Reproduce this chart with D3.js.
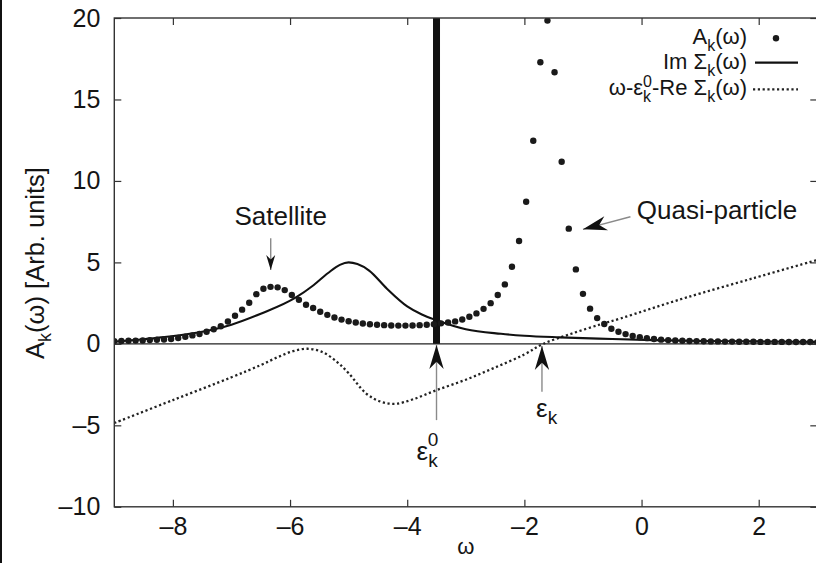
<!DOCTYPE html>
<html>
<head>
<meta charset="utf-8">
<script src="https://cdn.jsdelivr.net/npm/d3@7"></script>
<style>
	body { margin: 0; background: #fff; }
	text { font-family: "Liberation Sans", Arial, sans-serif; fill: #151515; }
</style>
</head>
<body>
<div id="chart"></div>
<script>
// spectral function A_k(w), one value per gnuplot sample (100 samples on [-9, 3])
const specA = [
	0.17, 0.18, 0.19, 0.20, 0.21, 0.23, 0.25, 0.27, 0.30, 0.36,
	0.44, 0.52, 0.61, 0.74, 0.90, 1.08, 1.37, 1.73, 2.10, 2.52,
	3.05, 3.38, 3.50, 3.47, 3.30, 3.00, 2.70, 2.40, 2.20, 1.97,
	1.78, 1.62, 1.49, 1.39, 1.31, 1.25, 1.20, 1.17, 1.15, 1.13,
	1.12, 1.12, 1.13, 1.15, 1.17, 1.21, 1.26, 1.31, 1.38, 1.50,
	1.66, 1.87, 2.15, 2.50, 3.00, 3.65, 4.73, 6.31, 8.72, 12.47,
	17.28, 19.84, 16.67, 11.18, 7.07, 4.57, 3.07, 2.16, 1.58, 1.22,
	0.93, 0.74, 0.60, 0.49, 0.41, 0.35, 0.30, 0.26, 0.23, 0.21,
	0.19, 0.18, 0.17, 0.16, 0.15, 0.15, 0.14, 0.14, 0.13, 0.13,
	0.13, 0.12, 0.12, 0.12, 0.12, 0.11, 0.11, 0.11, 0.11, 0.10
];
const omega = d3.range(specA.length).map(i => -9 + i * 12 / 99);

// Im Sigma_k(w) [w, value]
const imSigma = [
	[-9, 0.14], [-8.5, 0.28], [-8.2, 0.4], [-7.6, 0.68], [-7.0, 1.18], [-6.5, 1.85],
	[-5.9, 2.85], [-5.6, 3.6], [-5.35, 4.35], [-5.15, 4.85], [-5.0, 5.0], [-4.85, 4.9],
	[-4.65, 4.5], [-4.35, 3.4], [-4.0, 2.3], [-3.75, 1.8], [-3.5, 1.45], [-3.0, 0.9],
	[-2.4, 0.62], [-2.0, 0.5], [-1.4, 0.4], [-0.5, 0.3], [0.2, 0.23], [1, 0.18],
	[2, 0.15], [3, 0.12]
];

// w - eps0_k - Re Sigma_k(w)
const reTerm = [
	[-9, -4.86], [-8, -3.45], [-7, -2.05], [-6.5, -1.3], [-6.2, -0.8], [-5.95, -0.45],
	[-5.7, -0.3], [-5.45, -0.5], [-5.2, -1.1], [-5.0, -1.8], [-4.7, -3.05], [-4.45, -3.55],
	[-4.2, -3.68], [-3.9, -3.4], [-3.5, -2.84], [-3.0, -2.2], [-2.5, -1.45], [-2.0, -0.65],
	[-1.68, 0], [-1.2, 0.62], [-0.7, 1.2], [-0.36, 1.56], [0.15, 2.15], [0.77, 2.85],
	[1.9, 4.02], [3, 5.15]
];

const eps0 = -3.5;
const xTicks = [-8, -6, -4, -2, 0, 2];
const yTicks = [-10, -5, 0, 5, 10, 15, 20];

// annotation arrows: [w tail, value tail, w tip, value tip, head length]
const arrows = [
	[-6.33, 6.48, -6.33, 4.53, 15],
	[-0.19, 7.8, -1.0, 7.03, 24],
	[-3.5, -4.68, -3.5, -0.07, 24],
	[-1.70, -2.94, -1.70, -0.13, 24]
];

const W = 816, H = 563;
const svg = d3.select("#chart").append("svg")
	.attr("width", W).attr("height", H);

const x = d3.scaleLinear().domain([-9, 3]).range([114.3, 817.3]);
const y = d3.scaleLinear().domain([-10, 20]).range([506.8, 18]);
const fmt = d => d < 0 ? "\u2013" + Math.abs(d) : String(d);

svg.append("rect").attr("x", 0).attr("y", 0).attr("width", 2).attr("height", H).attr("fill", "#111");

svg.append("defs").append("clipPath").attr("id", "plot")
	.append("rect").attr("x", x(-9)).attr("y", y(20)).attr("width", x(3) - x(-9)).attr("height", y(-10) - y(20));

const plot = svg.append("g").attr("clip-path", "url(#plot)");

// zero line
plot.append("line")
	.attr("x1", x(-9)).attr("x2", x(3)).attr("y1", y(0)).attr("y2", y(0))
	.attr("stroke", "#222").attr("stroke-width", 1.4);

const line = d3.line().x(d => x(d[0])).y(d => y(d[1])).curve(d3.curveMonotoneX);

plot.append("path").datum(reTerm)
	.attr("d", line.curve(d3.curveCatmullRom.alpha(0.5))).attr("fill", "none")
	.attr("stroke", "#222").attr("stroke-width", 2.3).attr("stroke-dasharray", "2.2,2.6");

plot.append("path").datum(imSigma)
	.attr("d", line.curve(d3.curveMonotoneX)).attr("fill", "none")
	.attr("stroke", "#111").attr("stroke-width", 2.1);

// delta peak of Im Sigma at eps0
plot.append("line")
	.attr("x1", x(eps0)).attr("x2", x(eps0)).attr("y1", y(0)).attr("y2", y(20))
	.attr("stroke", "#111").attr("stroke-width", 7);

plot.selectAll("circle.a").data(specA).enter().append("circle")
	.attr("class", "a")
	.attr("cx", (d, i) => x(omega[i])).attr("cy", d => y(d))
	.attr("r", 3.2).attr("fill", "#1a1a1a");

// frame + ticks
const axisStyle = g => {
	g.select(".domain").remove();
	g.selectAll(".tick line").attr("stroke", "#333").attr("stroke-width", 1.2);
	g.selectAll(".tick text").attr("font-size", 25).attr("fill", "#151515")
		.attr("font-family", "'Liberation Sans', Arial, sans-serif");
};

svg.append("g").attr("transform", `translate(0,${y(-10)})`)
	.call(d3.axisBottom(x).tickValues(xTicks).tickSize(-7).tickPadding(10).tickFormat(fmt))
	.call(axisStyle);
svg.append("g").attr("transform", `translate(0,${y(20)})`)
	.call(d3.axisTop(x).tickValues(xTicks).tickSize(-7).tickFormat(""))
	.call(axisStyle);
svg.append("g").attr("transform", `translate(${x(-9)},0)`)
	.call(d3.axisLeft(y).tickValues(yTicks).tickSize(-7).tickPadding(14).tickFormat(fmt))
	.call(axisStyle);
svg.append("g").attr("transform", `translate(${x(3)},0)`)
	.call(d3.axisRight(y).tickValues(yTicks).tickSize(-7).tickFormat(""))
	.call(axisStyle);

svg.append("rect")
	.attr("x", x(-9)).attr("y", y(20)).attr("width", x(3) - x(-9)).attr("height", y(-10) - y(20))
	.attr("fill", "none").attr("stroke", "#333").attr("stroke-width", 1.4);

// axis labels
const ylab = svg.append("text")
	.attr("transform", "translate(43.5,263) rotate(-90)")
	.attr("text-anchor", "middle").attr("font-size", 25.5);
ylab.append("tspan").text("A");
ylab.append("tspan").attr("font-size", 18).attr("dy", 7).text("k");
ylab.append("tspan").attr("dy", -7).text("(\u03c9) [Arb. units]");

svg.append("text")
	.attr("x", (x(-9) + x(3)) / 2).attr("y", 554)
	.attr("text-anchor", "middle").attr("font-size", 22).text("\u03c9");

// legend
const legX = 747;
const legY = [43.5, 69.2, 95];
const l1 = svg.append("text").attr("x", legX).attr("y", legY[0]).attr("text-anchor", "end").attr("font-size", 22);
l1.append("tspan").text("A");
l1.append("tspan").attr("font-size", 16).attr("dy", 7).text("k");
l1.append("tspan").attr("dy", -7).text("(\u03c9)");
svg.append("circle").attr("cx", 776).attr("cy", legY[0] - 5.2).attr("r", 3.2).attr("fill", "#1a1a1a");

const l2 = svg.append("text").attr("x", legX).attr("y", legY[1]).attr("text-anchor", "end").attr("font-size", 22);
l2.append("tspan").text("Im \u03a3");
l2.append("tspan").attr("font-size", 16).attr("dy", 7).text("k");
l2.append("tspan").attr("dy", -7).text("(\u03c9)");
svg.append("line").attr("x1", 755).attr("x2", 798).attr("y1", legY[1] - 6.5).attr("y2", legY[1] - 6.5)
	.attr("stroke", "#111").attr("stroke-width", 2.3);

const l3 = svg.append("text").attr("x", legX).attr("y", legY[2]).attr("text-anchor", "end").attr("font-size", 22);
l3.append("tspan").text("\u03c9-\u03b5");
l3.append("tspan").attr("font-size", 16).attr("dy", 7).text("k");
l3.append("tspan").attr("font-size", 16).attr("dx", -8).attr("dy", -15).text("0");
l3.append("tspan").attr("dy", 8).text("-Re \u03a3");
l3.append("tspan").attr("font-size", 16).attr("dy", 7).text("k");
l3.append("tspan").attr("dy", -7).text("(\u03c9)");
svg.append("line").attr("x1", 753).attr("x2", 798).attr("y1", legY[2] - 5.7).attr("y2", legY[2] - 5.7)
	.attr("stroke", "#222").attr("stroke-width", 2.3).attr("stroke-dasharray", "2.2,2.6");

// annotations
function arrowHead(x1, y1, x2, y2, len) {
	const a = Math.atan2(y2 - y1, x2 - x1);
	const half = len * 0.3;
	const bx = x2 - len * Math.cos(a), by = y2 - len * Math.sin(a);
	const nx = x2 - len * 0.7 * Math.cos(a), ny = y2 - len * 0.7 * Math.sin(a);
	const px = -Math.sin(a) * half, py = Math.cos(a) * half;
	return `M${x2},${y2}L${bx + px},${by + py}L${nx},${ny}L${bx - px},${by - py}Z`;
}

arrows.forEach(a => {
	const [x1, y1, x2, y2] = [x(a[0]), y(a[1]), x(a[2]), y(a[3])];
	svg.append("line").attr("x1", x1).attr("y1", y1).attr("x2", x2).attr("y2", y2)
		.attr("stroke", "#8a8a8a").attr("stroke-width", 1.4);
	svg.append("path").attr("d", arrowHead(x1, y1, x2, y2, a[4])).attr("fill", "#111");
});

svg.append("text").attr("x", x(-6.16)).attr("y", y(7.28))
	.attr("text-anchor", "middle").attr("font-size", 26).text("Satellite");
svg.append("text").attr("x", x(-0.08)).attr("y", y(7.66))
	.attr("font-size", 26).text("Quasi-particle");

const e0 = svg.append("text").attr("x", x(-3.84)).attr("y", y(-7.13)).attr("font-size", 26);
e0.append("tspan").text("\u03b5");
e0.append("tspan").attr("font-size", 19).attr("dy", 7).text("k");
e0.append("tspan").attr("font-size", 19).attr("dx", -10).attr("dy", -21).text("0");

const ek = svg.append("text").attr("x", x(-1.8)).attr("y", y(-4.49)).attr("font-size", 26);
ek.append("tspan").text("\u03b5");
ek.append("tspan").attr("font-size", 19).attr("dy", 7).text("k");
</script>
</body>
</html>
